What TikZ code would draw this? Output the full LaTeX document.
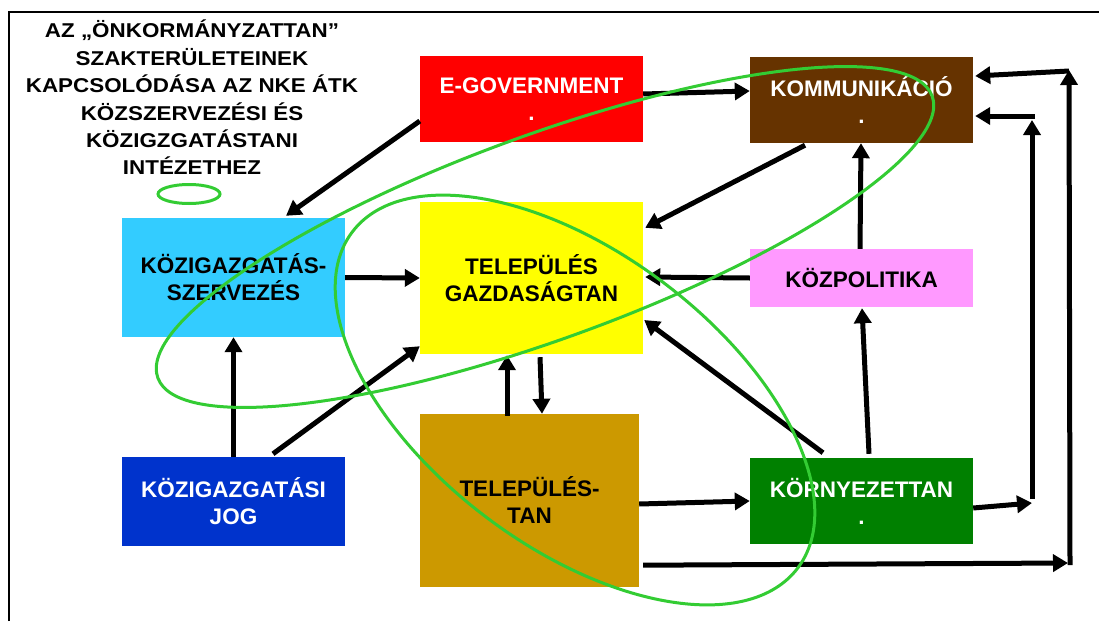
\documentclass[tikz,border=0pt]{standalone}
\usepackage{fontspec}
\setmainfont{Liberation Sans}
\usepackage{graphicx}
\usetikzlibrary{arrows.meta,calc}
\definecolor{egovred}{HTML}{FF0000}
\definecolor{kommbrown}{HTML}{663300}
\definecolor{szervcyan}{HTML}{33CCFF}
\definecolor{gazdyellow}{HTML}{FFFF00}
\definecolor{polpink}{HTML}{FF99FF}
\definecolor{jogblue}{HTML}{0033CC}
\definecolor{tangold}{HTML}{CC9900}
\definecolor{kornygreen}{HTML}{008000}
\definecolor{ringgreen}{HTML}{33CC33}
\begin{document}
\begin{tikzpicture}[x=1pt,y=-1pt,
  box/.style={rectangle, inner sep=0pt, align=center,
    font=\bfseries\fontsize{22.5}{27}\selectfont, minimum width=223pt},
  arr/.style={line width=5pt, -{Triangle[length=15pt,width=17pt]}},
  ring/.style={draw=ringgreen, line width=3pt}]
\useasboundingbox (0,0) rectangle (1099,621);
\fill[white] (0,0) rectangle (1099,621);
\draw[line width=2pt] (9,621) -- (9,12) -- (1099,12);

% title
\node[inner sep=0pt] (title) at (192,101) {\scalebox{1.12}[1]{\fontsize{20}{27.4}\selectfont\bfseries
  \begin{tabular}{@{}c@{}}AZ „ÖNKORMÁNYZATTAN”\\ SZAKTERÜLETEINEK\\ KAPCSOLÓDÁSA AZ NKE ÁTK\\ KÖZSZERVEZÉSI ÉS\\ KÖZIGZGATÁSTANI\\ INTÉZETHEZ\end{tabular}}};

% boxes
\node[box, fill=egovred, text=white, minimum height=86pt] (egov) at (531.5,99) {E-GOVERNMENT\\.};
\node[box, fill=kommbrown, text=white, minimum height=86pt] (komm) at (861.5,100) {KOMMUNIKÁCIÓ\\.};
\node[box, fill=szervcyan, text=black, minimum height=119pt] (kszerv) at (233.5,277.5) {KÖZIGAZGATÁS-\\SZERVEZÉS};
\node[box, fill=gazdyellow, text=black, minimum height=152pt] (telgazd) at (531.5,278) {TELEPÜLÉS\\GAZDASÁGTAN};
\node[box, fill=polpink, text=black, minimum height=58pt] (kozpol) at (861.5,278) {KÖZPOLITIKA};
\node[box, fill=jogblue, text=white, minimum height=89pt] (jog) at (233.5,501.5) {KÖZIGAZGATÁSI\\JOG};
\node[box, fill=tangold, text=black, minimum width=219pt, minimum height=173pt] (teltan) at (529.5,500.5) {TELEPÜLÉS-\\TAN};
\node[box, fill=kornygreen, text=white, minimum height=86pt] (korny) at (861.5,501) {KÖRNYEZETTAN\\.};

% helper coordinates on the right
\coordinate (r1b) at (1032,503);
\coordinate (r1t) at (1032,120);
\coordinate (r1h) at (1035,116);
\coordinate (r2b) at (1068,563);
\coordinate (r2t) at (1069,70);

% connectors
\draw[arr] ([yshift=-22pt]egov.west) -- ([xshift=52.5pt,yshift=2pt]kszerv.north);
\draw[arr] ([yshift=5pt]egov.east) -- ([yshift=9pt]komm.west);
\draw[arr] ([xshift=-56.5pt,yshift=-2pt]komm.south) -- ([xshift=2pt,yshift=-26pt]telgazd.north east);
\draw[arr] ([xshift=-1.5pt]kozpol.north) -- ([xshift=-0.5pt]komm.south);
\draw[arr] (kozpol.west) -- ([xshift=2pt,yshift=1pt]telgazd.east);
\draw[arr] ([xshift=-38.5pt,yshift=5pt]korny.north) -- ([xshift=1pt,yshift=-42pt]telgazd.east);
\draw[arr] ([xshift=7.5pt,yshift=4pt]korny.north) -- ([xshift=0.5pt,yshift=-1pt]kozpol.south);
\draw[arr] (kszerv.east) -- (telgazd.west);
\draw[arr] (jog.north) -- (kszerv.south);
\draw[arr] ([xshift=39.5pt,yshift=3pt]jog.north) -- ([yshift=8pt]telgazd.south west);
\draw[arr] ([xshift=-22.5pt,yshift=-2pt]teltan.north) -- ([xshift=-24.5pt,yshift=-1pt]telgazd.south);
\draw[arr] ([xshift=8.5pt,yshift=-3pt]telgazd.south) -- ([xshift=12.5pt]teltan.north);
\draw[arr] ([yshift=-3.5pt]teltan.east) -- (korny.west);
\draw[arr] ([yshift=-7pt]korny.east) -- (r1b);
\draw[arr] ([yshift=4pt]r1b) -- (r1t);
\draw[arr] (r1h) -- ([xshift=2pt,yshift=-16pt]komm.east);
\draw[arr] ([xshift=4pt,yshift=22pt]teltan.south east) -- (r2b);
\draw[arr] ([xshift=2pt,yshift=-2pt]r2b) -- (r2t);
\draw[arr] ([yshift=-1pt]r2t) -- ([xshift=2pt,yshift=24pt]komm.east);

% green rings
\draw[ring] (189,194) ellipse [x radius=31pt, y radius=9.5pt];
\draw[ring, shift={(545,237)}, rotate=20] (0,0) ellipse [x radius=412pt, y radius=102pt];
\draw[ring, shift={(575,400)}, rotate=-37] (0,0) ellipse [x radius=279pt, y radius=147pt];
\end{tikzpicture}
\end{document}
